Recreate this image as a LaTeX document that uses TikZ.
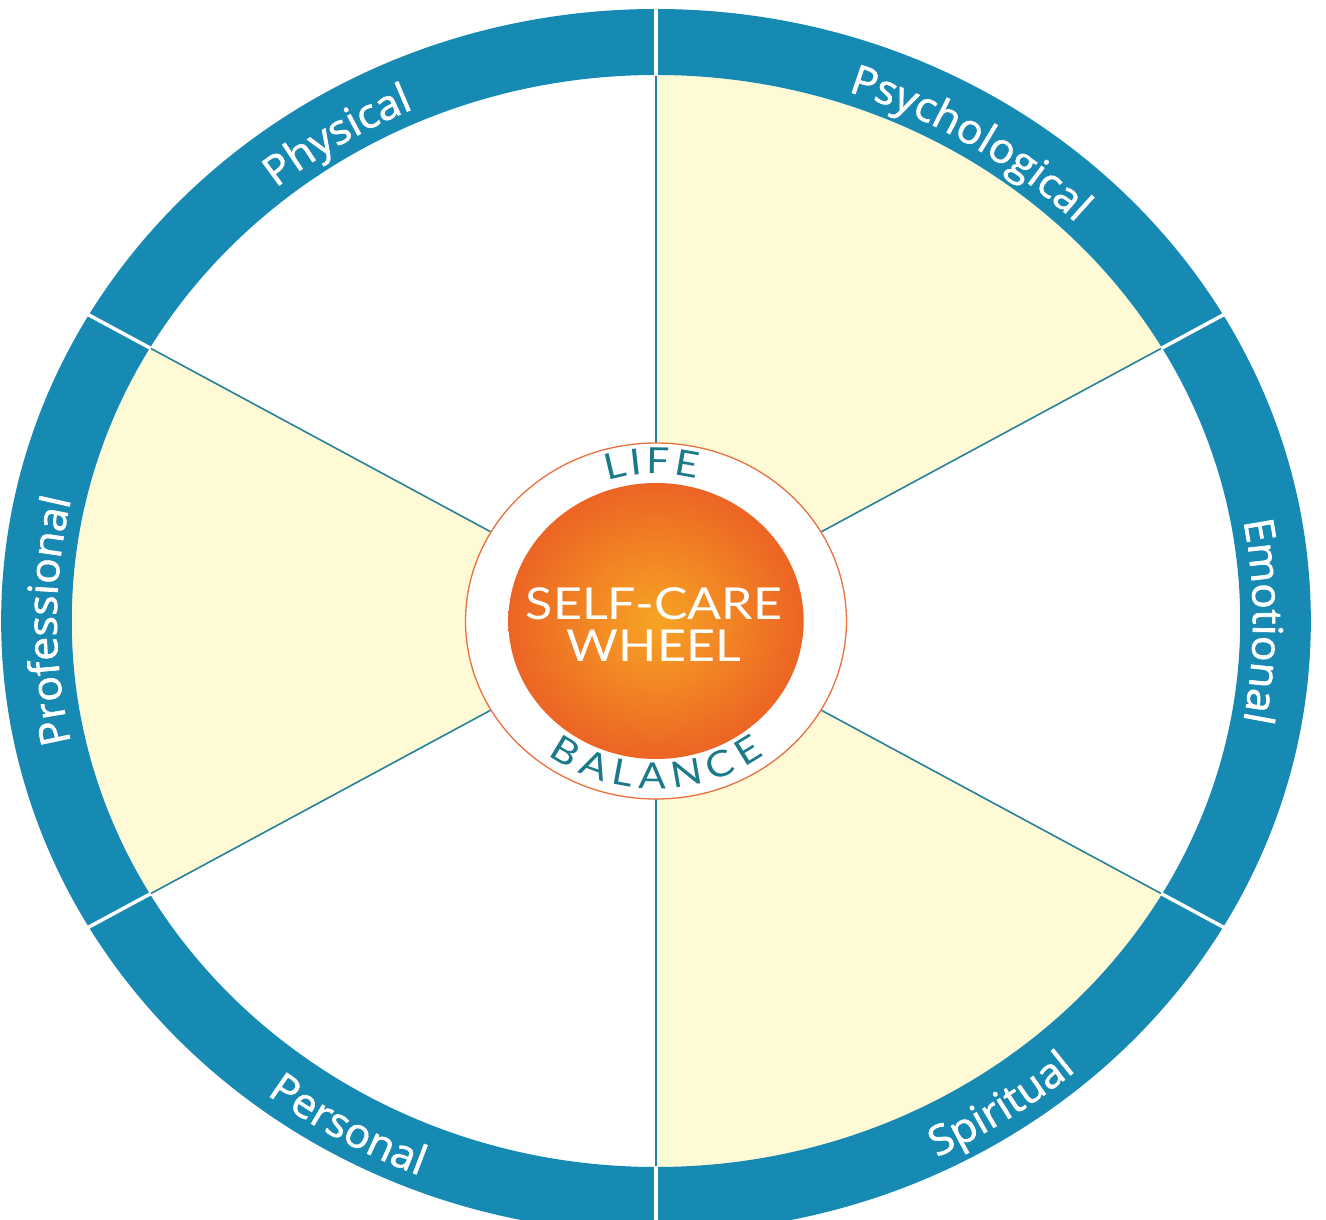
\documentclass[tikz,border=0pt]{standalone}
\usepackage{fontspec}
\setmainfont{Open Sans}
\newfontfamily\bandfont[FakeStretch=1.04, FakeBold=1.6]{Open Sans}
\newfontfamily\hubfont[FakeStretch=1.14]{Lato}
\usetikzlibrary{decorations.text, shadings}
\definecolor{bandblue}{RGB}{22,138,178}
\definecolor{spoketeal}{RGB}{38,128,158}
\definecolor{paleyellow}{RGB}{254,250,214}
\definecolor{ringorange}{RGB}{234,112,62}
\definecolor{discinner}{RGB}{247,164,36}
\definecolor{discouter}{RGB}{236,100,36}
\definecolor{hubteal}{RGB}{26,122,138}
\tikzstyle{spoke} = [draw=spoketeal, line width=1.6pt]
\tikzstyle{bandgap} = [draw=white, line width=3.5pt]
\tikzstyle{bandlabel} = [decorate, decoration={text along path, text align=center, text color=white, text={|\bandfont\fontsize{41}{48}\selectfont|#1}}]
\tikzstyle{hublabel} = [decorate, decoration={text along path, text align=fit to path, text color=hubteal, text={|\hubfont\fontsize{36}{40}\selectfont|#1}}]
\tikzstyle{hubtitle} = [text=white, align=center, font=\hubfont\fontsize{44}{42}\selectfont]

\begin{document}
\begin{tikzpicture}[x=1.07pt, y=1pt]
\useasboundingbox (-656pt,-599pt) rectangle (670pt,621pt);

% sectors
\foreach \a in {30,150,270}
  \fill[paleyellow] (0,0) -- (\a:546) arc[start angle=\a, delta angle=60, radius=546] -- cycle;

% outer band
\fill[bandblue, even odd rule] (0,0) circle[radius=612] (0,0) circle[radius=546];

\foreach \a in {30,90,...,330} {
  \draw[spoke] (\a:178) -- (\a:546);
  \draw[bandgap] (\a:545) -- (\a:618);
}

% hub
\filldraw[fill=white, draw=ringorange, line width=1.3pt] (0,0) circle[radius=178];
\shade[inner color=discinner, outer color=discouter] (0,0) circle[radius=138];
\node (title) [hubtitle] at (-2,-4) {SELF-CARE\\WHEEL};

\path[hublabel=LIFE] (108:147) arc[start angle=108, end angle=75, radius=147];
\path[hublabel=BALANCE] (-127:168) arc[start angle=-127, end angle=-53, radius=168];

% band labels
\path[bandlabel=Physical] (152:560) arc[start angle=152, end angle=92, radius=560];
\path[bandlabel=Psychological] (88:559) arc[start angle=88, end angle=28, radius=559];
\path[bandlabel=Emotional] (30:558) arc[start angle=30, end angle=-30, radius=558];
\path[bandlabel=Professional] (210:560) arc[start angle=210, end angle=150, radius=560];
\path[bandlabel=Spiritual] (-86:597) arc[start angle=-86, end angle=-26, radius=597];
\path[bandlabel=Personal] (-150:597) arc[start angle=-150, end angle=-90, radius=597];

\end{tikzpicture}
\end{document}
